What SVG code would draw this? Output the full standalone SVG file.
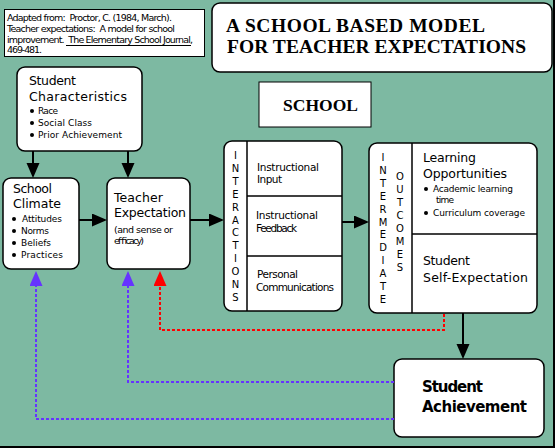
<svg xmlns="http://www.w3.org/2000/svg" width="555" height="448" viewBox="0 0 555 448">
<style>
.box{fill:#fff;stroke:#000;stroke-width:1.5}
.div{stroke:#000;stroke-width:1.5;fill:none}
.t{font-family:"DejaVu Sans","Liberation Sans",sans-serif;fill:#000}
.lg{font-size:12.5px}
.md{font-size:10.5px}
.sm{font-size:9.5px}
.xs{font-size:9px}
.vl{font-family:"DejaVu Sans","Liberation Sans",sans-serif;font-size:10px;text-anchor:middle}
.ser{font-family:"Liberation Serif","Times New Roman",serif;font-weight:bold;fill:#000}
.ach{font-family:"DejaVu Sans","Liberation Sans",sans-serif;font-weight:bold;font-size:15px}
.arr{stroke:#000;stroke-width:2;fill:none}
.dash{stroke-width:2;fill:none;stroke-dasharray:3 2}
</style>
<defs>
<marker id="hb" markerUnits="userSpaceOnUse" markerWidth="16" markerHeight="14" refX="13" refY="6.5" orient="auto"><path d="M0,0 L15,6.5 L0,13 z" fill="#000"/></marker>
<marker id="hu" markerUnits="userSpaceOnUse" markerWidth="16" markerHeight="14" refX="13" refY="6.5" orient="auto"><path d="M0,0 L15,6.5 L0,13 z" fill="#6633ff"/></marker>
<marker id="hr" markerUnits="userSpaceOnUse" markerWidth="16" markerHeight="14" refX="13" refY="6.5" orient="auto"><path d="M0,0 L15,6.5 L0,13 z" fill="#ff0000"/></marker>
</defs>
<rect x="0" y="0" width="555" height="448" fill="#7db9a2"/>
<rect x="553" y="0" width="2" height="448" fill="#000"/>
<rect x="0" y="446" width="555" height="2" fill="#000"/>

<g id="citation">
<rect x="4.5" y="9.5" width="200" height="47" fill="#fff" stroke="#000" stroke-width="1"/>
<text class="t sm" x="7" y="21" textLength="165" xml:space="preserve">Adapted from:  Proctor, C. (1984, March).</text>
<text class="t sm" x="7" y="32" textLength="168" xml:space="preserve">Teacher expectations:  A model for school</text>
<text class="t sm" x="7" y="43" textLength="186" xml:space="preserve">improvement.  The Elementary School Journal,</text>
<text class="t sm" x="7" y="53" textLength="35">469-481.</text>
<line x1="66" y1="45.5" x2="191" y2="45.5" stroke="#000" stroke-width="1"/>
</g>

<g id="title">
<rect class="box" x="212" y="3" width="340" height="69" rx="8"/>
<text class="ser" font-size="19.5" x="226" y="32" textLength="259">A SCHOOL BASED MODEL</text>
<text class="ser" font-size="19.5" x="227" y="53" textLength="299">FOR TEACHER EXPECTATIONS</text>
</g>

<g id="student-characteristics">
<rect class="box" x="17" y="67" width="125" height="84" rx="8"/>
<text class="t lg" x="29" y="85" textLength="47">Student</text>
<text class="t lg" x="29" y="101" textLength="98">Characteristics</text>
<circle cx="32" cy="111" r="2"/><circle cx="32" cy="123" r="2"/><circle cx="32" cy="135" r="2"/>
<text class="t xs" x="38" y="114" textLength="20">Race</text>
<text class="t xs" x="38" y="126" textLength="54">Social Class</text>
<text class="t xs" x="38" y="138" textLength="84">Prior Achievement</text>
</g>

<g id="school-climate">
<rect class="box" x="3" y="178" width="76" height="91" rx="8"/>
<text class="t lg" x="13" y="193" textLength="39">School</text>
<text class="t lg" x="13" y="208" textLength="48">Climate</text>
<circle cx="14" cy="219" r="2"/><circle cx="14" cy="231" r="2"/><circle cx="14" cy="243" r="2"/><circle cx="14" cy="255" r="2"/>
<text class="t xs" x="22" y="222" textLength="40">Attitudes</text>
<text class="t xs" x="21" y="234" textLength="28">Norms</text>
<text class="t xs" x="21" y="246" textLength="30">Beliefs</text>
<text class="t xs" x="21" y="258" textLength="42">Practices</text>
</g>

<g id="teacher-expectation">
<rect class="box" x="107" y="178" width="83" height="91" rx="8"/>
<text class="t lg" x="114" y="202" textLength="49">Teacher</text>
<text class="t lg" x="114" y="217" textLength="72">Expectation</text>
<text class="t sm" x="114" y="233" textLength="59">(and sense or</text>
<text class="t sm" x="114" y="244" textLength="30">efficacy)</text>
</g>

<g id="school">
<rect x="259" y="82" width="112" height="45" fill="#fff" stroke="#000" stroke-width="1"/>
<text class="ser" font-size="17.5" x="283" y="111" textLength="75">SCHOOL</text>
</g>

<g id="interactions">
<rect class="box" x="224" y="141" width="118" height="170" rx="8"/>
<line class="div" x1="247" y1="141" x2="247" y2="311"/>
<line class="div" x1="247" y1="196" x2="342" y2="196"/>
<line class="div" x1="247" y1="256" x2="342" y2="256"/>
<text class="vl"><tspan x="235.5" y="159">I</tspan><tspan x="235.5" y="172">N</tspan><tspan x="235.5" y="185">T</tspan><tspan x="235.5" y="198">E</tspan><tspan x="235.5" y="211">R</tspan><tspan x="235.5" y="224">A</tspan><tspan x="235.5" y="236">C</tspan><tspan x="235.5" y="249">T</tspan><tspan x="235.5" y="262">I</tspan><tspan x="235.5" y="275">O</tspan><tspan x="235.5" y="288">N</tspan><tspan x="235.5" y="301">S</tspan></text>
<text class="t md" x="257" y="171" textLength="62">Instructional</text>
<text class="t md" x="257" y="183" textLength="25">Input</text>
<text class="t md" x="256" y="219" textLength="62">Instructional</text>
<text class="t md" x="256" y="232" textLength="41">Feedback</text>
<text class="t md" x="257" y="278" textLength="41">Personal</text>
<text class="t md" x="256" y="291" textLength="78">Communications</text>
</g>

<g id="intermediate-outcomes">
<rect class="box" x="369" y="143" width="168" height="170" rx="8"/>
<line class="div" x1="412" y1="143" x2="412" y2="313"/>
<line class="div" x1="412" y1="234" x2="537" y2="234"/>
<text class="vl"><tspan x="383" y="161">I</tspan><tspan x="383" y="174">N</tspan><tspan x="383" y="187">T</tspan><tspan x="383" y="200">E</tspan><tspan x="383" y="213">R</tspan><tspan x="383" y="226">M</tspan><tspan x="383" y="238">E</tspan><tspan x="383" y="251">D</tspan><tspan x="383" y="264">I</tspan><tspan x="383" y="277">A</tspan><tspan x="383" y="290">T</tspan><tspan x="383" y="303">E</tspan></text>
<text class="vl"><tspan x="400" y="180">O</tspan><tspan x="400" y="193">U</tspan><tspan x="400" y="206">T</tspan><tspan x="400" y="219">C</tspan><tspan x="400" y="232">O</tspan><tspan x="400" y="245">M</tspan><tspan x="400" y="258">E</tspan><tspan x="400" y="271">S</tspan></text>
<text class="t lg" x="423" y="162" textLength="53">Learning</text>
<text class="t lg" x="423" y="178" textLength="84">Opportunities</text>
<circle cx="426" cy="189" r="2"/><circle cx="426" cy="213" r="2"/>
<text class="t xs" x="433" y="192" textLength="80">Academic learning</text>
<text class="t xs" x="436" y="203" textLength="18">time</text>
<text class="t xs" x="433" y="216" textLength="92">Curriculum coverage</text>
<text class="t lg" x="423" y="265" textLength="47">Student</text>
<text class="t lg" x="423" y="282" textLength="105">Self-Expectation</text>
</g>

<g id="student-achievement">
<rect class="box" x="394" y="359" width="150" height="78" rx="8"/>
<text class="ach" x="422" y="392" textLength="61">Student</text>
<text class="ach" x="422" y="412" textLength="105">Achievement</text>
</g>

<g id="connectors">
<path class="arr" d="M33,151 V176" marker-end="url(#hb)"/>
<path class="arr" d="M128,151 V176" marker-end="url(#hb)"/>
<path class="arr" d="M79,220 H105" marker-end="url(#hb)"/>
<path class="arr" d="M190,220 H222" marker-end="url(#hb)"/>
<path class="arr" d="M342,222 H367" marker-end="url(#hb)"/>
<path class="arr" d="M463,313 V357" marker-end="url(#hb)"/>
<path class="dash" stroke="#ff0000" d="M444,314 V330 H160 V273" marker-end="url(#hr)"/>
<path class="dash" stroke="#6633ff" d="M394,382 H128 V273" marker-end="url(#hu)"/>
<path class="dash" stroke="#6633ff" d="M394,419 H36 V273" marker-end="url(#hu)"/>
</g>
</svg>
